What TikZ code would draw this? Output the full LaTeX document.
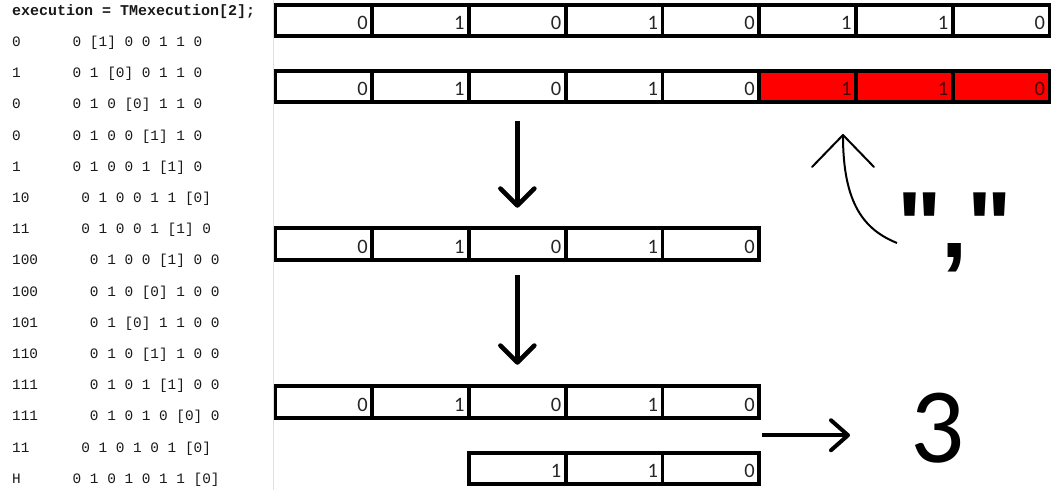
\documentclass[tikz,border=0pt]{standalone}
\usepackage{fontspec}
\usetikzlibrary{arrows.meta,calc}
\newfontfamily\cellfont{Carlito}
\newfontfamily\codefont{Liberation Mono}
\newfontfamily\markfont{Liberation Sans}

\begin{document}
\begin{tikzpicture}[x=1pt, y=-1pt]
    % Define styles
    \tikzset{
        cell/.style={draw, line width=3.8pt, anchor=west, outer sep=0pt,
            minimum height=31.5pt, text width=87.75pt, inner xsep=4.5pt, inner ysep=0pt,
            text height=18pt, text depth=0pt,
            align=right, text=black!85, font=\cellfont\fontsize{20.5}{20.5}\selectfont},
        hot/.style={cell, fill=red, text=black!70!red},
        codeline/.style={anchor=base west, inner sep=0pt, text=black!90,
            font=\codefont\fontsize{14.4}{16}\selectfont},
        stepdown/.style={-{Straight Barb[length=17pt, width=34pt, round]}, line width=4.5pt},
        result/.style={-{Straight Barb[length=17pt, width=30pt, round]}, line width=4pt},
        hook/.style={-{Straight Barb[length=32pt, width=62pt, round]}, line width=2pt}
    }
    \useasboundingbox (0,0) rectangle (1051,490);

    % Sheet edge
    \draw[gray!25, line width=1pt] (273,0) -- (273,490);

    % Code listing
    \node[codeline, font=\codefont\bfseries\fontsize{15}{17}\selectfont] (head) at (12,15.5) {execution = TMexecution[2];};
    \foreach \lbl/\bits [count=\k] in {0/{0 [1] 0 0 1 1 0}, 1/{0 1 [0] 0 1 1 0},
            0/{0 1 0 [0] 1 1 0}, 0/{0 1 0 0 [1] 1 0}, 1/{0 1 0 0 1 [1] 0},
            10/{0 1 0 0 1 1 [0]}, 11/{0 1 0 0 1 [1] 0}, 100/{0 1 0 0 [1] 0 0},
            100/{0 1 0 [0] 1 0 0}, 101/{0 1 [0] 1 1 0 0}, 110/{0 1 0 [1] 1 0 0},
            111/{0 1 0 1 [1] 0 0}, 111/{0 1 0 1 0 [0] 0}, 11/{0 1 0 1 0 1 [0]},
            H/{0 1 0 1 0 1 1 [0]}}
        \node[codeline] (line\k) at (12, {46.5+31.2*(\k-1)}) {\lbl\phantom{000000}\bits};

    % Tape rows
    \foreach \v [count=\i] in {0,1,0,1,0,1,1,0}
        \node[cell] (ra\i) at ({275.5+96.75*(\i-1)}, 20.5) {\v};
    \foreach \v [count=\i] in {0,1,0,1,0}
        \node[cell] (rb\i) at ({275.5+96.75*(\i-1)}, 86.5) {\v};
    \foreach \v [count=\i from 6] in {1,1,0}
        \node[hot] (rb\i) at ({275.5+96.75*(\i-1)}, 86.5) {\v};
    \foreach \v [count=\i] in {0,1,0,1,0}
        \node[cell] (rc\i) at ({275.5+96.75*(\i-1)}, 244) {\v};
    \foreach \v [count=\i] in {0,1,0,1,0}
        \node[cell] (rd\i) at ({275.5+96.75*(\i-1)}, 402) {\v};
    \foreach \v [count=\i from 3] in {1,1,0}
        \node[cell] (re\i) at ({275.5+96.75*(\i-1)}, 468.5) {\v};

    % Steps
    \draw[stepdown, shorten <=18.5pt, shorten >=20.5pt] (rb3.south) -- (rc3.north);
    \draw[stepdown, shorten <=15.5pt, shorten >=21.5pt] (rc3.south) -- (rd3.north);

    % Separator mark
    \node[font=\markfont\bfseries\fontsize{94}{94}\selectfont, anchor=base west, inner sep=0pt] (sep) at (897,257) {","};
    \coordinate (aim) at (843,134);
    \draw[hook] ([yshift=14pt]sep.base west) .. controls (865,230) and (843,205) .. (aim);

    % Count
    \node[font=\cellfont\fontsize{107}{107}\selectfont, anchor=base west, inner sep=0pt] (count) at (910,462) {3};
    \coordinate (gap) at ($(rd5.south east)!0.5!(re5.north east)$);
    \draw[result, shorten <=3pt, shorten >=60pt] (gap) -- (count.west |- gap);

\end{tikzpicture}
\end{document}
